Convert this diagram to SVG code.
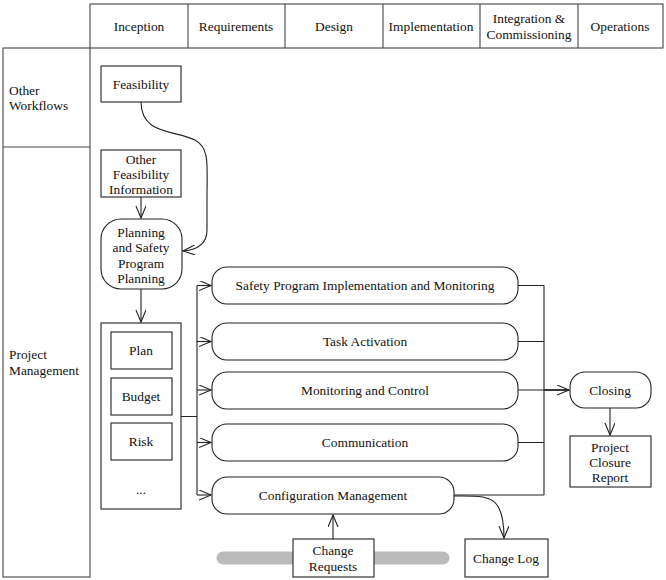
<svg xmlns="http://www.w3.org/2000/svg" width="666" height="580" viewBox="0 0 666 580">
<defs>
<marker id="arr" markerUnits="userSpaceOnUse" markerWidth="14" markerHeight="12" refX="12" refY="5" orient="auto" viewBox="0 0 14 12">
<path d="M0,0 L12,5 L0,10" fill="none" stroke="#222" stroke-width="1.1"/>
</marker>
<style>
text{font-family:"Liberation Serif","Times New Roman",serif;font-size:13.4px;fill:#111;text-anchor:middle}
.l{text-anchor:start}
.b{fill:#fff;stroke:#222;stroke-width:1.1}
.g{fill:none;stroke:#444;stroke-width:1.1}
.c{fill:none;stroke:#222;stroke-width:1.1}
</style>
</defs>
<rect width="666" height="580" fill="#fff"/>
<g id="frame">
<rect x="90" y="4" width="573" height="44" class="g"/>
<line x1="188" y1="4" x2="188" y2="48" class="g"/>
<line x1="285" y1="4" x2="285" y2="48" class="g"/>
<line x1="383" y1="4" x2="383" y2="48" class="g"/>
<line x1="480" y1="4" x2="480" y2="48" class="g"/>
<line x1="578" y1="4" x2="578" y2="48" class="g"/>
<rect x="3" y="48" width="87" height="529" class="g"/>
<line x1="3" y1="147" x2="90" y2="147" class="g"/>
<text x="139" y="31">Inception</text>
<text x="236" y="31">Requirements</text>
<text x="334" y="31">Design</text>
<text x="431" y="31">Implementation</text>
<text x="529" y="23">Integration &amp;</text>
<text x="529" y="39">Commissioning</text>
<text x="620" y="31">Operations</text>
<text x="9" y="95" class="l">Other</text>
<text x="9" y="110" class="l">Workflows</text>
<text x="9" y="359" class="l">Project</text>
<text x="9" y="375" class="l">Management</text>
</g>
<g id="bar"><line x1="223" y1="558" x2="443" y2="558" stroke="#bbb" stroke-width="13" stroke-linecap="round"/></g>
<g id="connectors">
<path d="M141,102 C141,135 175,130 195,140 C210,148 207,165 207,200 L207,230 C207,245 195,250 183,251" class="c" marker-end="url(#arr)"/>
<line x1="141" y1="197" x2="141" y2="218" class="c" marker-end="url(#arr)"/>
<line x1="141" y1="289" x2="141" y2="322" class="c" marker-end="url(#arr)"/>
<path d="M181,416.5 H197 M197,285.5 V495" class="c"/>
<line x1="197" y1="285.5" x2="211" y2="285.5" class="c" marker-end="url(#arr)"/>
<line x1="197" y1="341.5" x2="211" y2="341.5" class="c" marker-end="url(#arr)"/>
<line x1="197" y1="390" x2="211" y2="390" class="c" marker-end="url(#arr)"/>
<line x1="197" y1="442.5" x2="211" y2="442.5" class="c" marker-end="url(#arr)"/>
<line x1="197" y1="495" x2="211" y2="495" class="c" marker-end="url(#arr)"/>
<path d="M518,285.5 H544 M518,341.5 H544 M518,442.5 H544 M454,495 H544 M544,285.5 V495 M518,390 H544" class="c"/>
<line x1="544" y1="390" x2="569" y2="390" fill="none" stroke="#222" stroke-width="1.8" marker-end="url(#arr)"/>
<line x1="610" y1="408" x2="610" y2="435" class="c" marker-end="url(#arr)"/>
<path d="M454,496 C475,496 490,495 497,505 C503,513 504,525 504,538" class="c" marker-end="url(#arr)"/>
<line x1="333" y1="539" x2="333" y2="515" class="c" marker-end="url(#arr)"/>
</g>
<g id="feasibility"><rect x="101" y="66" width="80" height="36" class="b"/><text x="141" y="89">Feasibility</text></g>
<g id="ofi"><rect x="101" y="150" width="80" height="47" class="b"/><text x="141" y="164">Other</text><text x="141" y="179">Feasibility</text><text x="141" y="194">Information</text></g>
<g id="planning"><rect x="101" y="219" width="81" height="70" rx="20" class="b"/><text x="141" y="237">Planning</text><text x="141" y="252">and Safety</text><text x="141" y="268">Program</text><text x="141" y="283">Planning</text></g>
<g id="container"><rect x="101" y="323" width="80" height="186" class="b"/><text x="141" y="494">...</text></g>
<g id="plan"><rect x="111" y="332" width="61" height="37" class="b"/><text x="141" y="355">Plan</text></g>
<g id="budget"><rect x="111" y="378" width="61" height="37" class="b"/><text x="141" y="401">Budget</text></g>
<g id="risk"><rect x="111" y="423" width="61" height="37" class="b"/><text x="141" y="446">Risk</text></g>
<g id="spim"><rect x="212" y="267" width="306" height="37" rx="15" class="b"/><text x="365" y="290">Safety Program Implementation and Monitoring</text></g>
<g id="task"><rect x="212" y="323" width="306" height="37" rx="15" class="b"/><text x="365" y="346">Task Activation</text></g>
<g id="monitor"><rect x="212" y="372" width="306" height="37" rx="15" class="b"/><text x="365" y="395">Monitoring and Control</text></g>
<g id="comm"><rect x="212" y="424" width="306" height="37" rx="15" class="b"/><text x="365" y="447">Communication</text></g>
<g id="config"><rect x="212" y="477" width="242" height="37" rx="15" class="b"/><text x="333" y="500">Configuration Management</text></g>
<g id="closing"><rect x="570" y="372" width="81" height="36" rx="15" class="b"/><text x="610" y="395">Closing</text></g>
<g id="closure"><rect x="570" y="436" width="81" height="51" class="b"/><text x="610" y="452">Project</text><text x="610" y="467">Closure</text><text x="610" y="482">Report</text></g>
<g id="changereq"><rect x="293" y="539" width="81" height="38" class="b"/><text x="333" y="555">Change</text><text x="333" y="571">Requests</text></g>
<g id="changelog"><rect x="465" y="539" width="83" height="38" class="b"/><text x="506" y="563">Change Log</text></g>
</svg>
